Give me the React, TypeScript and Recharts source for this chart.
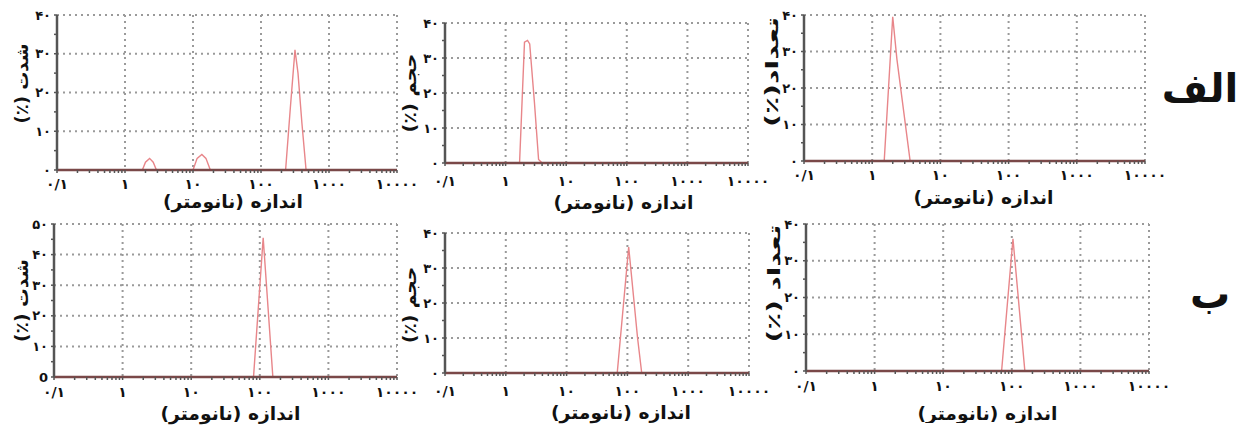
import { LineChart, Line, XAxis, YAxis, CartesianGrid } from "recharts";

const FONT = '"DejaVu Sans", "Noto Sans", sans-serif';
const LINE_COLOR = "#e8868a";
const AXIS_COLOR = "#555555";
const BASE_COLOR = "#7a4848";
const GRID_COLOR = "#9a9a9a";

// size axis (log), nm
const X_MAJOR = [0.1, 1, 10, 100, 1000, 10000];
const X_LABELS = ["۰/۱", "۱", "۱۰", "۱۰۰", "۱۰۰۰", "۱۰۰۰۰"];
const X_MINOR = [
  0.2, 0.3, 0.4, 0.5, 0.6, 0.7, 0.8, 0.9,
  2, 3, 4, 5, 6, 7, 8, 9,
  20, 30, 40, 50, 60, 70, 80, 90,
  200, 300, 400, 500, 600, 700, 800, 900,
  2000, 3000, 4000, 5000, 6000, 7000, 8000, 9000,
];

// percent axes
const Y40_MAJOR = [0, 10, 20, 30, 40];
const Y40_ALL = [0, 5, 10, 15, 20, 25, 30, 35, 40];
const Y40_LABELS = ["۰", "", "۱۰", "", "۲۰", "", "۳۰", "", "۴۰"];
const Y50_MAJOR = [0, 10, 20, 30, 40, 50];
const Y50_ALL = [0, 5, 10, 15, 20, 25, 30, 35, 40, 45, 50];
const Y50_LABELS = ["0", "", "۱۰", "", "۲۰", "", "۳۰", "", "۴۰", "", "۵۰"];

// row الف
const A_INT_SIZE = [0.1, 1.8, 2.0, 2.3, 2.6, 2.9, 10, 11.5, 13.5, 15.5, 18, 230, 270, 316, 350, 400, 460, 10000];
const A_INT_VAL = [0, 0, 2, 3, 2, 0, 0, 3, 4, 3, 0, 0, 16, 31, 25, 12, 0, 0];
const A_VOL_SIZE = [0.1, 1.7, 2.05, 2.3, 2.5, 3.0, 3.5, 4.0, 10000];
const A_VOL_VAL = [0, 0, 34.5, 35, 34, 17, 1, 0, 0];
const A_NUM_SIZE = [0.1, 1.5, 2.0, 2.3, 3.6, 10000];
const A_NUM_VAL = [0, 0, 39.5, 28, 0, 0];

// row ب
const B_INT_SIZE = [0.1, 81, 112, 155, 10000];
const B_INT_VAL = [0, 0, 45.5, 0, 0];
const B_VOL_SIZE = [0.1, 68, 105, 147, 172, 10000];
const B_VOL_VAL = [0, 0, 36, 10, 0, 0];
const B_NUM_SIZE = [0.1, 71, 104, 155, 10000];
const B_NUM_VAL = [0, 0, 36, 0, 0];

const X_TITLE = "اندازه (نانومتر)";

const YW = 57;
const TOP = 8;
const RIGHT = 24;
const XH = 52;

type PanelProps = {
  sizes: number[];
  values: number[];
  yTitle: string;
  yTitleLen: number;
  yMax: number;
  yMajor: number[];
  yAll: number[];
  yLabels: string[];
  l: number;
  t: number;
  r: number;
  b: number;
  lx: number;
  ldy: number;
  tickGap: number;
  tdx: number;
  tdy: number;
};

function Panel(p: PanelProps) {
  const data = p.sizes.map((s, i) => ({ s, v: p.values[i] }));
  const w = p.r - p.l + YW + RIGHT;
  const h = p.b - p.t + TOP + XH;
  const ticksX = [...X_MAJOR, ...X_MINOR].sort((a, b) => a - b);

  const yTitle = (props: any) => {
    const vb = props.viewBox;
    const cx = vb.x + p.lx;
    const cy = vb.y + vb.height / 2 + p.ldy;
    return (
      <text
        transform={`translate(${cx},${cy}) rotate(-90)`}
        textAnchor="middle"
        dominantBaseline="central"
        fontFamily={FONT}
        fontWeight="bold"
        fontSize={17}
        fill="#111"
        textLength={p.yTitleLen}
        lengthAdjust="spacingAndGlyphs"
        style={{ direction: "rtl", unicodeBidi: "embed" }}
      >
        {p.yTitle}
      </text>
    );
  };

  const xTitle = (props: any) => {
    const vb = props.viewBox;
    return (
      <text
        x={vb.x + vb.width / 2 + p.tdx}
        y={vb.y + p.tdy}
        textAnchor="middle"
        dominantBaseline="central"
        fontFamily={FONT}
        fontWeight="bold"
        fontSize={18}
        fill="#111"
        textLength={140}
        lengthAdjust="spacingAndGlyphs"
        style={{ direction: "rtl", unicodeBidi: "embed" }}
      >
        {X_TITLE}
      </text>
    );
  };

  return (
    <div style={{ position: "absolute", left: p.l - YW, top: p.t - TOP, width: w, height: h }}>
      <LineChart width={w} height={h} data={data} margin={{ top: TOP, right: RIGHT, left: 0, bottom: 0 }}>
        <CartesianGrid
          stroke={GRID_COLOR}
          strokeWidth={2}
          strokeDasharray="2 4"
          horizontalValues={p.yMajor}
          verticalValues={X_MAJOR}
        />
        <XAxis
          dataKey="s"
          type="number"
          scale="log"
          domain={[0.1, 10000]}
          ticks={ticksX}
          interval={0}
          height={XH}
          tickSize={3}
          tickMargin={p.tickGap}
          tickFormatter={(v: number) => {
            const i = X_MAJOR.indexOf(v);
            return i >= 0 ? X_LABELS[i] : "";
          }}
          tick={{ fontFamily: FONT, fontWeight: "bold", fontSize: 14, fill: "#111" }}
          axisLine={{ stroke: BASE_COLOR, strokeWidth: 2.5 }}
          tickLine={{ stroke: AXIS_COLOR, strokeWidth: 1.5 }}
          label={xTitle}
        />
        <YAxis
          type="number"
          domain={[0, p.yMax]}
          ticks={p.yAll}
          interval={0}
          width={YW}
          tickSize={3}
          tickMargin={3}
          tickFormatter={(v: number) => p.yLabels[p.yAll.indexOf(v)] ?? ""}
          tick={{ fontFamily: FONT, fontWeight: "bold", fontSize: 13, fill: "#111" }}
          axisLine={{ stroke: AXIS_COLOR, strokeWidth: 2.5 }}
          tickLine={{ stroke: AXIS_COLOR, strokeWidth: 1.5 }}
          label={yTitle}
        />
        <Line
          type="linear"
          dataKey="v"
          stroke={LINE_COLOR}
          strokeWidth={1.4}
          dot={false}
          isAnimationActive={false}
        />
      </LineChart>
    </div>
  );
}

export default function App() {
  return (
    <div
      style={{
        position: "absolute",
        left: 0,
        top: 0,
        width: 1237,
        height: 432,
        background: "#ffffff",
        overflow: "hidden",
        fontFamily: FONT,
      }}
    >
      <Panel sizes={A_INT_SIZE} values={A_INT_VAL} yTitle="شدت (٪)" yTitleLen={80} yMax={40} yMajor={Y40_MAJOR} yAll={Y40_ALL} yLabels={Y40_LABELS}
        l={57} t={15} r={397} b={170} lx={22} ldy={-9} tickGap={6} tdx={6} tdy={31} />
      <Panel sizes={A_VOL_SIZE} values={A_VOL_VAL} yTitle="حجم (٪)" yTitleLen={79} yMax={40} yMajor={Y40_MAJOR} yAll={Y40_ALL} yLabels={Y40_LABELS}
        l={445} t={23} r={748} b={163} lx={22} ldy={0} tickGap={10} tdx={27} tdy={39} />
      <Panel sizes={A_NUM_SIZE} values={A_NUM_VAL} yTitle="تعداد(٪)" yTitleLen={110} yMax={40} yMajor={Y40_MAJOR} yAll={Y40_ALL} yLabels={Y40_LABELS}
        l={804} t={15} r={1145} b={161} lx={25} ldy={-16} tickGap={6} tdx={9} tdy={36} />
      <Panel sizes={B_INT_SIZE} values={B_INT_VAL} yTitle="شدت (٪)" yTitleLen={83} yMax={50} yMajor={Y50_MAJOR} yAll={Y50_ALL} yLabels={Y50_LABELS}
        l={54} t={224} r={397} b={377} lx={25} ldy={0} tickGap={7} tdx={5} tdy={36} />
      <Panel sizes={B_VOL_SIZE} values={B_VOL_VAL} yTitle="حجم (٪)" yTitleLen={76} yMax={40} yMajor={Y40_MAJOR} yAll={Y40_ALL} yLabels={Y40_LABELS}
        l={445} t={233} r={749} b={373} lx={22} ldy={2} tickGap={10} tdx={24} tdy={39} />
      <Panel sizes={B_NUM_SIZE} values={B_NUM_VAL} yTitle="تعداد (٪)" yTitleLen={118} yMax={40} yMajor={Y40_MAJOR} yAll={Y40_ALL} yLabels={Y40_LABELS}
        l={806} t={224} r={1149} b={371} lx={25} ldy={-14} tickGap={7} tdx={10} tdy={42} />
      <div dir="rtl" style={{ position: "absolute", left: 1160, top: 66, width: 80, textAlign: "center", fontSize: 40, fontWeight: "bold", lineHeight: "44px", color: "#111" }}>
        الف
      </div>
      <div dir="rtl" style={{ position: "absolute", left: 1170, top: 272, width: 80, textAlign: "center", fontSize: 40, fontWeight: "bold", lineHeight: "44px", color: "#111" }}>
        ب
      </div>
    </div>
  );
}
